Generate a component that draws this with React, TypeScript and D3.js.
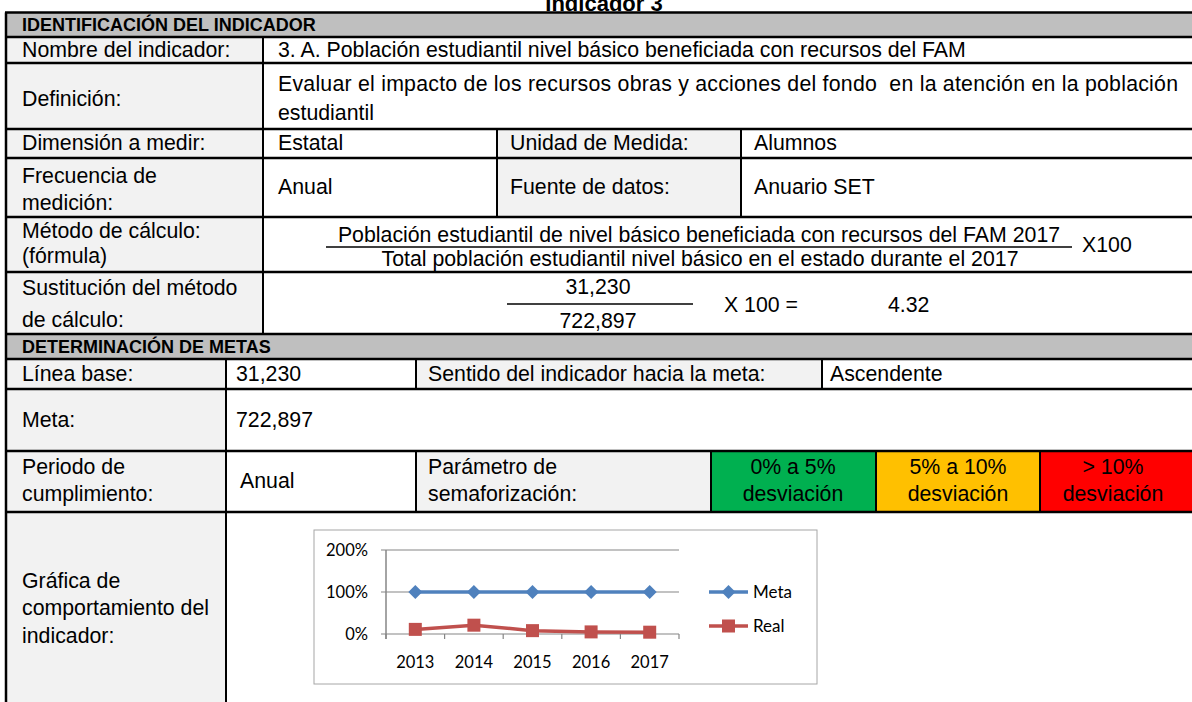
import React from "react";
import * as d3 from "d3";

// chart data
const years = ["2013", "2014", "2015", "2016", "2017"];
const metaValues = [100, 100, 100, 100, 100];
const realValues = [11, 21, 8, 5, 4.32];
const yTicks = [0, 100, 200];
const seriesNames = ["Meta", "Real"];

const W = 1192;
const H = 702;
const FONT = "'Liberation Sans', Arial, sans-serif";
const CHART_FONT = "Lato, 'Open Sans', sans-serif";
const TXT = 21.3;
const LABEL_BG = "#f2f2f2";
const HEAD_BG = "#bfbfbf";
const BLUE = "#4f81bd";
const RED = "#c0504d";

// table grid
const c0 = 6, c1 = 263, c2 = 497, c3 = 741, cR = 1196;
const k1 = 226, k2 = 416, k3 = 822, s1 = 711, s2 = 876, s3 = 1040;
const r = [12.5, 37, 63, 129, 158, 217, 272, 334, 359, 389, 451, 512, 720];

type Cell = [number, number, number, number, string];
const cells: Cell[] = [
  [c0, cR, r[0], r[1], HEAD_BG],
  [c0, c1, r[1], r[2], LABEL_BG], [c1, cR, r[1], r[2], "#fff"],
  [c0, c1, r[2], r[3], LABEL_BG], [c1, cR, r[2], r[3], "#fff"],
  [c0, c1, r[3], r[4], LABEL_BG], [c1, c2, r[3], r[4], "#fff"], [c2, c3, r[3], r[4], LABEL_BG], [c3, cR, r[3], r[4], "#fff"],
  [c0, c1, r[4], r[5], LABEL_BG], [c1, c2, r[4], r[5], "#fff"], [c2, c3, r[4], r[5], LABEL_BG], [c3, cR, r[4], r[5], "#fff"],
  [c0, c1, r[5], r[6], LABEL_BG], [c1, cR, r[5], r[6], "#fff"],
  [c0, c1, r[6], r[7], LABEL_BG], [c1, cR, r[6], r[7], "#fff"],
  [c0, cR, r[7], r[8], HEAD_BG],
  [c0, k1, r[8], r[9], LABEL_BG], [k1, k2, r[8], r[9], "#fff"], [k2, k3, r[8], r[9], LABEL_BG], [k3, cR, r[8], r[9], "#fff"],
  [c0, k1, r[9], r[10], LABEL_BG], [k1, cR, r[9], r[10], "#fff"],
  [c0, k1, r[10], r[11], LABEL_BG], [k1, k2, r[10], r[11], "#fff"], [k2, s1, r[10], r[11], LABEL_BG],
  [s1, s2, r[10], r[11], "#00b050"], [s2, s3, r[10], r[11], "#ffc000"], [s3, cR, r[10], r[11], "#ff0000"],
  [c0, k1, r[11], r[12], LABEL_BG], [k1, cR, r[11], r[12], "#fff"],
];

type Txt = { x: number; y: number; t: string; a?: "start" | "middle" | "end"; b?: boolean; s?: number; len?: number };
const texts: Txt[] = [
  { x: 604, y: 11, t: "Indicador 3", a: "middle", b: true, s: 22 },
  { x: 22, y: 31, t: "IDENTIFICACIÓN DEL INDICADOR", b: true, s: 18 },
  { x: 22, y: 57, t: "Nombre del indicador:" },
  { x: 278, y: 57, t: "3. A. Población estudiantil nivel básico beneficiada con recursos del FAM" },
  { x: 22, y: 106, t: "Definición:" },
  { x: 278, y: 91, t: "Evaluar el impacto de los recursos obras y acciones del fondo  en la atención en la población", len: 900 },
  { x: 278, y: 120, t: "estudiantil" },
  { x: 22, y: 150, t: "Dimensión a medir:" },
  { x: 278, y: 150, t: "Estatal" },
  { x: 510, y: 150, t: "Unidad de Medida:" },
  { x: 754, y: 150, t: "Alumnos" },
  { x: 22, y: 183, t: "Frecuencia de" },
  { x: 22, y: 210, t: "medición:" },
  { x: 278, y: 194, t: "Anual" },
  { x: 510, y: 194, t: "Fuente de datos:" },
  { x: 754, y: 194, t: "Anuario SET" },
  { x: 22, y: 238, t: "Método de cálculo:" },
  { x: 22, y: 263, t: "(fórmula)" },
  { x: 699, y: 242, t: "Población estudiantil de nivel básico beneficiada con recursos del FAM 2017", a: "middle" },
  { x: 700, y: 266, t: "Total población estudiantil nivel básico en el estado durante el 2017", a: "middle" },
  { x: 1082, y: 252, t: "X100" },
  { x: 22, y: 295, t: "Sustitución del método" },
  { x: 22, y: 327, t: "de cálculo:" },
  { x: 598, y: 294, t: "31,230", a: "middle" },
  { x: 598, y: 328, t: "722,897", a: "middle" },
  { x: 724, y: 312, t: "X 100 =" },
  { x: 888, y: 312, t: "4.32" },
  { x: 22, y: 353, t: "DETERMINACIÓN DE METAS", b: true, s: 18 },
  { x: 22, y: 381, t: "Línea base:" },
  { x: 236, y: 381, t: "31,230" },
  { x: 428, y: 381, t: "Sentido del indicador hacia la meta:" },
  { x: 830, y: 381, t: "Ascendente" },
  { x: 22, y: 427, t: "Meta:" },
  { x: 236, y: 427, t: "722,897" },
  { x: 22, y: 474, t: "Periodo de" },
  { x: 22, y: 501, t: "cumplimiento:" },
  { x: 240, y: 488, t: "Anual" },
  { x: 428, y: 474, t: "Parámetro de" },
  { x: 428, y: 501, t: "semaforización:" },
  { x: 793, y: 474, t: "0% a 5%", a: "middle" },
  { x: 793, y: 501, t: "desviación", a: "middle" },
  { x: 958, y: 474, t: "5% a 10%", a: "middle" },
  { x: 958, y: 501, t: "desviación", a: "middle" },
  { x: 1113, y: 474, t: "> 10%", a: "middle" },
  { x: 1113, y: 501, t: "desviación", a: "middle" },
  { x: 22, y: 588, t: "Gráfica de" },
  { x: 22, y: 615, t: "comportamiento del" },
  { x: 22, y: 643, t: "indicador:" },
];

function Chart() {
  const x = d3.scaleBand().domain(years).range([386, 679]);
  const y = d3.scaleLinear().domain([0, 200]).range([634, 550]);
  const bw = x.bandwidth();
  const cx = (i: number) => (x(years[i]) as number) + bw / 2;
  const line = d3.line<number>().x((_, i) => cx(i)).y((d) => y(d));
  const diamond = (px: number, py: number, s: number) =>
    `M${px},${py - s}L${px + s},${py}L${px},${py + s}L${px - s},${py}Z`;
  const legX = 709, legX2 = 748, legTx = 753;
  const legY = [592, 626];

  return (
    <g fontFamily={CHART_FONT}>
      <rect x={314} y={530} width={503} height={154} fill="#fff" stroke="#a6a6a6" strokeWidth={1} />
      {yTicks.map((t) => (
        <g key={t}>
          <line x1={381} x2={x.range()[1]} y1={y(t)} y2={y(t)} stroke="#868686" strokeWidth={1.2} />
          <text x={368} y={y(t) + 6} textAnchor="end" fontSize={16.5} fill="#000">{t}%</text>
        </g>
      ))}
      <line x1={386} x2={386} y1={y(200)} y2={y(0) + 5} stroke="#868686" strokeWidth={1.5} />
      {d3.range(years.length + 1).map((i) => (
        <line key={i} x1={386 + i * bw} x2={386 + i * bw} y1={y(0)} y2={y(0) + 5} stroke="#868686" strokeWidth={1.2} />
      ))}
      {years.map((yr, i) => (
        <text key={yr} x={cx(i)} y={668} textAnchor="middle" fontSize={16.5} fill="#000">{yr}</text>
      ))}
      <path d={line(metaValues) || ""} fill="none" stroke={BLUE} strokeWidth={3.5} />
      {metaValues.map((v, i) => (
        <path key={i} d={diamond(cx(i), y(v), 7)} fill={BLUE} />
      ))}
      <path d={line(realValues) || ""} fill="none" stroke={RED} strokeWidth={3.5} />
      {realValues.map((v, i) => (
        <rect key={i} x={cx(i) - 6.5} y={y(v) - 6.5} width={13} height={13} fill={RED} />
      ))}
      {seriesNames.map((name, k) => (
        <g key={name}>
          <line x1={legX} x2={legX2} y1={legY[k]} y2={legY[k]} stroke={k === 0 ? BLUE : RED} strokeWidth={3.5} />
          {k === 0 ? (
            <path d={diamond((legX + legX2) / 2, legY[k], 7)} fill={BLUE} />
          ) : (
            <rect x={(legX + legX2) / 2 - 6.5} y={legY[k] - 6.5} width={13} height={13} fill={RED} />
          )}
          <text x={legTx} y={legY[k] + 6} fontSize={17} fill="#000">{name}</text>
        </g>
      ))}
    </g>
  );
}

export default function App() {
  const vLines: number[][] = [];
  cells.forEach(([x0, , ya, yb]) => {
    if (x0 !== c0) vLines.push([x0, ya, yb]);
  });
  return (
    <div style={{ position: "fixed", left: 0, top: 0 }}>
      <svg width={W} height={H} style={{ display: "block", background: "#fff" }}>
        {cells.map(([x0, x1, ya, yb, f], i) => (
          <rect key={i} x={x0} y={ya} width={x1 - x0} height={yb - ya} fill={f} />
        ))}
        {vLines.map(([vx, ya, yb], i) => (
          <line key={i} x1={vx} x2={vx} y1={ya} y2={yb} stroke="#000" strokeWidth={2} />
        ))}
        <line x1={c0} x2={c0} y1={r[0]} y2={H + 10} stroke="#000" strokeWidth={2.5} />
        {r.slice(0, -1).map((ry, i) => (
          <line key={i} x1={c0 - 1} x2={cR} y1={ry} y2={ry} stroke="#000" strokeWidth={2.5} />
        ))}
        <line x1={326} x2={1072} y1={247} y2={247} stroke="#000" strokeWidth={1.5} />
        <line x1={507} x2={693} y1={304} y2={304} stroke="#000" strokeWidth={1.5} />
        <g fontFamily={FONT} fill="#000">
          {texts.map((d, i) => (
            <text
              key={i}
              x={d.x}
              y={d.y}
              textAnchor={d.a || "start"}
              fontWeight={d.b ? "bold" : "normal"}
              fontSize={d.s || TXT}
              textLength={d.len}
              lengthAdjust={d.len ? "spacing" : undefined}
              style={{ whiteSpace: "pre" }}
            >
              {d.t}
            </text>
          ))}
        </g>
        <Chart />
      </svg>
    </div>
  );
}
